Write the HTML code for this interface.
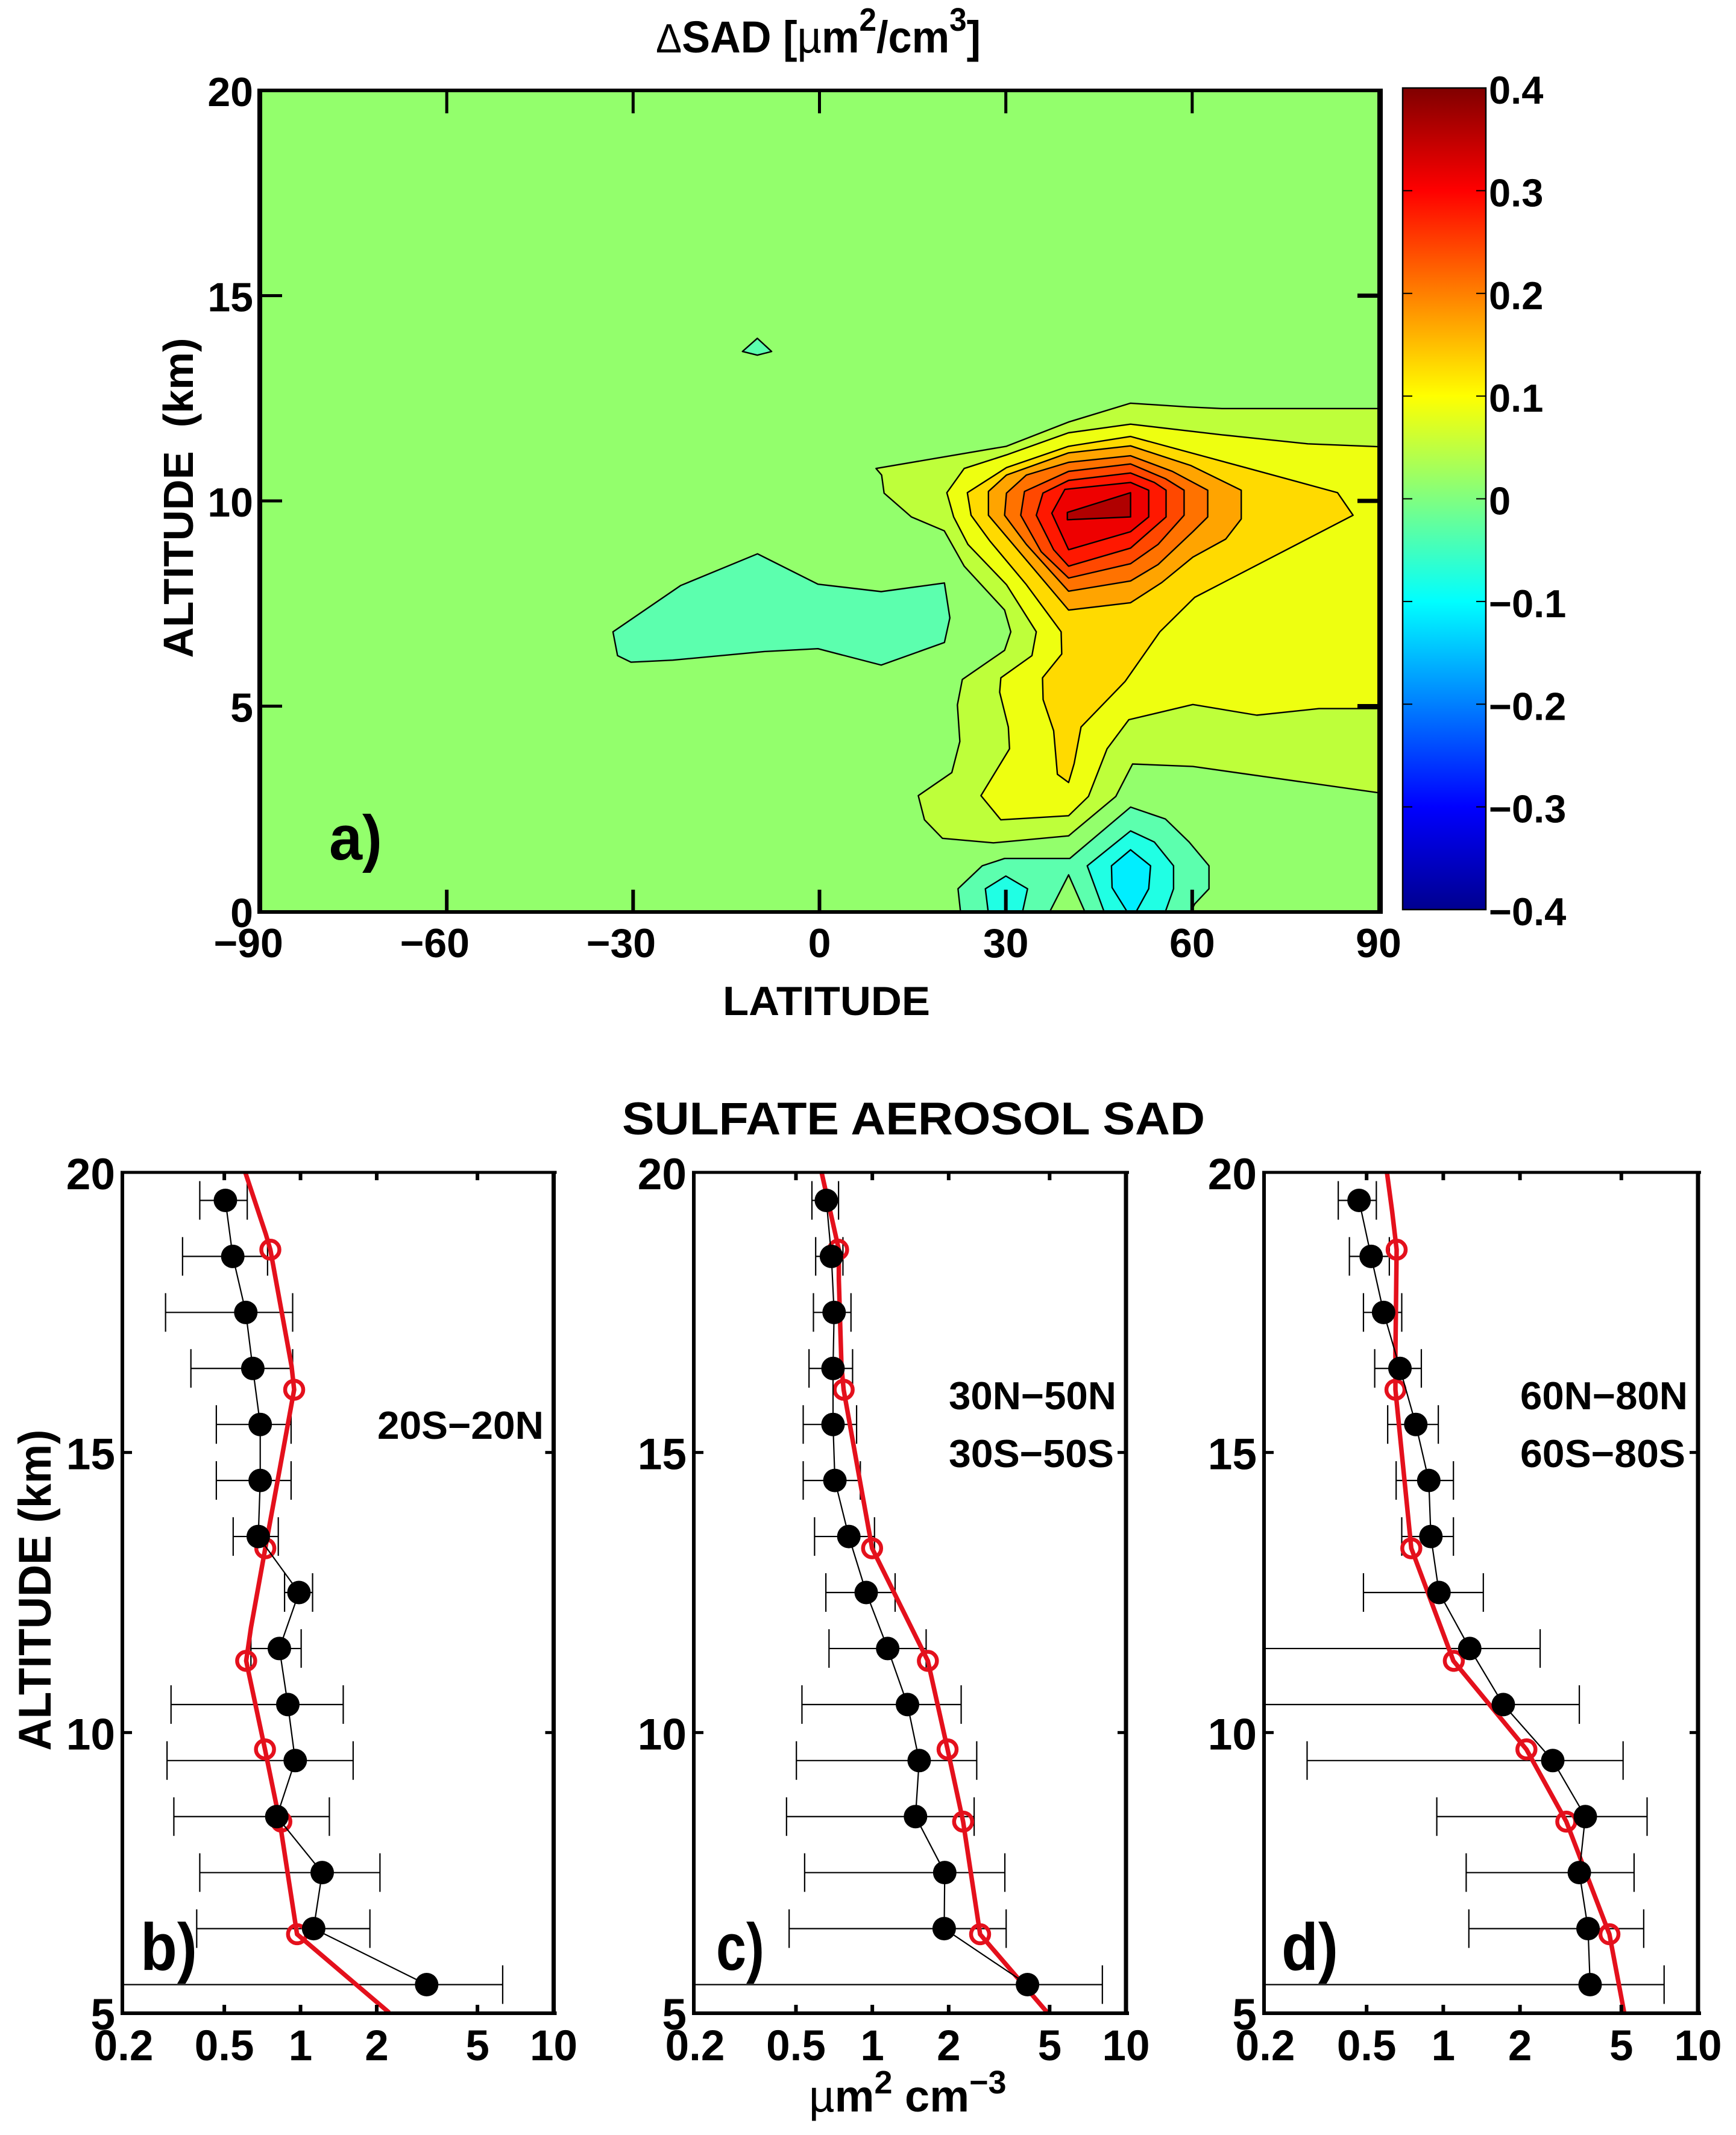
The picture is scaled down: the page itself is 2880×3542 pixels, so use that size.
<!DOCTYPE html>
<html lang="en">
<head>
<meta charset="utf-8">
<title>Delta SAD and sulfate aerosol SAD profiles</title>
<style>
  html, body { margin: 0; padding: 0; background: #fff; }
  body { width: 2880px; height: 3542px; overflow: hidden; }
  svg { display: block; }
  text { font-family: "Liberation Sans", sans-serif; font-weight: 700; fill: #000; }
</style>
</head>
<body>
<svg id="figure" xmlns="http://www.w3.org/2000/svg" width="2880" height="3542" viewBox="0 0 2880 3542">
  <defs>
    <clipPath id="clip-a"><rect x="432" y="150" width="1855" height="1362"/></clipPath>
    <clipPath id="clip-b"><rect x="205" y="1945" width="713.5" height="1394"/></clipPath>
    <clipPath id="clip-c"><rect x="1153" y="1945" width="715" height="1394"/></clipPath>
    <clipPath id="clip-d"><rect x="2099" y="1945" width="718" height="1394"/></clipPath>
    <linearGradient id="jet" x1="0" y1="1" x2="0" y2="0">
      <stop offset="0" stop-color="#00008f"/>
      <stop offset="0.125" stop-color="#0000ff"/>
      <stop offset="0.375" stop-color="#00ffff"/>
      <stop offset="0.5" stop-color="#80ff80"/>
      <stop offset="0.625" stop-color="#ffff00"/>
      <stop offset="0.875" stop-color="#ff0000"/>
      <stop offset="1" stop-color="#800000"/>
    </linearGradient>
  </defs>

  <text transform="translate(1088 87) scale(0.95 1)" x="0" y="0" font-size="74"><tspan font-weight="400" font-size="68">Δ</tspan>SAD [<tspan font-weight="400">µ</tspan>m<tspan font-size="54" dy="-36">2</tspan><tspan dy="36">/cm</tspan><tspan font-size="54" dy="-36">3</tspan><tspan dy="36">]</tspan></text>
  <text transform="translate(320 826) rotate(-90)" text-anchor="middle" font-size="70" textLength="531" lengthAdjust="spacingAndGlyphs" xml:space="preserve">ALTITUDE  (km)</text>
  <text x="1199" y="1684" font-size="68" textLength="344" lengthAdjust="spacingAndGlyphs">LATITUDE</text>
  <text x="1032" y="1882" font-size="76" textLength="967" lengthAdjust="spacingAndGlyphs">SULFATE AEROSOL SAD</text>
  <text transform="translate(84 2638) rotate(-90)" text-anchor="middle" font-size="76" textLength="533" lengthAdjust="spacingAndGlyphs">ALTITUDE (km)</text>
  <text x="1342" y="3503" font-size="74"><tspan font-weight="400">µ</tspan>m<tspan font-size="54" dy="-30">2</tspan><tspan dy="30"> cm</tspan><tspan font-size="54" dy="-30">−3</tspan></text>

  <g id="panel-a"></g>
  <g id="colorbar"></g>
  <g id="panel-b"></g>
  <g id="panel-c"></g>
  <g id="panel-d"></g>

  <text x="546" y="1426" font-size="105" textLength="88" lengthAdjust="spacingAndGlyphs">a)</text>
  <text x="233" y="3268" font-size="110" textLength="94" lengthAdjust="spacingAndGlyphs">b)</text>
  <text x="1188" y="3268" font-size="110" textLength="80" lengthAdjust="spacingAndGlyphs">c)</text>
  <text x="2126" y="3268" font-size="110" textLength="94" lengthAdjust="spacingAndGlyphs">d)</text>

  <text x="626" y="2387" font-size="65" textLength="276" lengthAdjust="spacingAndGlyphs">20S−20N</text>
  <text x="1574" y="2338" font-size="65" textLength="278" lengthAdjust="spacingAndGlyphs">30N−50N</text>
  <text x="1574" y="2434" font-size="65" textLength="274" lengthAdjust="spacingAndGlyphs">30S−50S</text>
  <text x="2522" y="2338" font-size="65" textLength="278" lengthAdjust="spacingAndGlyphs">60N−80N</text>
  <text x="2522" y="2434" font-size="65" textLength="274" lengthAdjust="spacingAndGlyphs">60S−80S</text>
</svg>

<script>
// ---------- Contour panel data: [latitude, altitude km] ----------
const latTicks = [-90, -60, -30, 0, 30, 60, 90];
const altTicksA = [0, 5, 10, 15, 20];
const colorbarTicks = [0.4, 0.3, 0.2, 0.1, 0, -0.1, -0.2, -0.3, -0.4];

const contourPos1 = [[90,12.25],[64.8,12.25],[59.2,12.29],[50.08,12.38],[40.09,11.92],[30.09,11.33],[9.1,10.79],[10,10.63],[10.4,10.19],[14.8,9.61],[20.1,9.27],[23.3,8.41],[29.8,7.34],[30.8,6.81],[29.8,6.36],[23,5.65],[22.2,5.03],[22.6,4.14],[21.3,3.38],[15.9,2.82],[16.9,2.23],[19.8,1.78],[28,1.67],[40.1,1.84],[47.7,2.8],[50.4,3.59],[60.1,3.53],[90,2.89]];
const contourPos2 = [[90,11.32],[78.6,11.39],[64.8,11.61],[50.08,11.87],[40.09,11.66],[30.09,11.12],[23.3,10.79],[20.5,10.2],[21.6,9.61],[23.9,8.94],[30.1,7.96],[34.9,6.81],[34.2,6.23],[29.2,5.69],[29,5.34],[30.4,4.49],[30.6,3.96],[26,2.82],[29.2,2.23],[40.1,2.33],[43.3,2.8],[46.3,3.96],[49.8,4.67],[60.1,5.04],[70.4,4.78],[80.4,4.94],[90,4.94]];
const contourPos3 = [[85.9,9.65],[83.4,10.2],[68.6,10.81],[50.08,11.57],[40.1,11.33],[30.1,10.81],[23.8,10.2],[24.4,9.65],[27.4,9.03],[33.3,7.96],[38.9,6.81],[39,6.27],[35.9,5.69],[36,5.16],[37.7,4.4],[38.3,3.34],[40.1,3.14],[41,3.6],[42.1,4.49],[49.2,5.6],[54.8,6.81],[60.4,7.65]];
const contourPos4 = [[67.9,10.26],[59.8,10.86],[50.08,11.34],[40.1,11.17],[30.1,10.63],[27.2,10.23],[27.2,9.65],[40.1,7.34],[50.08,7.52],[55.1,8.01],[60.1,8.63],[65.4,9.07],[67.9,9.56]];
const contourPos5 = [[62.5,10.26],[56.8,10.72],[50.08,11.1],[40.1,10.94],[33.3,10.63],[30.1,10.19],[29.8,9.65],[33.3,8.94],[40.1,7.8],[50.08,8.05],[54.5,8.45],[60.1,9.25],[62.5,9.61]];
const contourPos6 = [[58.7,10.26],[55.7,10.54],[50.08,10.9],[40.1,10.72],[33,10.23],[32.4,9.65],[35.7,8.76],[40.1,8.12],[50.08,8.47],[54.5,8.94],[58.7,9.65]];
const contourPos7 = [[55.8,10.26],[53.9,10.45],[50.08,10.68],[40.1,10.5],[35.97,10.19],[34.9,9.65],[37.7,8.81],[40.1,8.41],[50.08,8.85],[55.8,9.61]];
const contourPos8 = [[53,10.26],[50.08,10.45],[39.5,10.28],[37.4,9.7],[40.1,8.81],[50.08,9.25],[53,9.61]];
const contourPos9 = [[50.08,10.2],[39.9,9.72],[39.9,9.54],[50.08,9.61]];
const contourNegBlob = [[-33.24,6.81],[-32.51,6.23],[-30.34,6.07],[-23.63,6.12],[-8.9,6.33],[-0.24,6.4],[9.94,6],[20.12,6.55],[20.99,7.15],[20.12,8],[9.94,7.79],[-0.24,7.97],[-9.98,8.71],[-22.33,7.94]];
const contourNegDiamond = [[-12.4,13.64],[-10,13.96],[-7.7,13.64],[-10,13.55]];
const contourNeg1 = [[22.7,0],[22.3,0.55],[26.2,1.11],[29.8,1.29],[40.3,1.29],[50.08,2.54],[55.7,2.25],[59.5,1.69],[62.7,1.11],[62.7,0.55],[60.4,0.18],[59.8,0],[42.7,0],[40.1,0.89],[37.1,0]];
const contourNeg2a = [[27.15,0],[26.7,0.55],[30,0.86],[33.5,0.55],[32.7,0]];
const contourNeg2b = [[45.8,0],[43.1,1.11],[50.08,1.96],[53.9,1.69],[57,1.11],[57,0.55],[55.7,0]];
const contourNeg3 = [[49.5,0],[47.1,0.58],[47,1.11],[50.08,1.5],[53.3,1.11],[53,0.55],[51,0]];

// ---------- Profile panel data ----------
const profileXTicks = [0.2, 0.5, 1, 2, 5, 10];
const profileYTicks = [5, 10, 15, 20];
const obsAltitudes = [19.5, 18.5, 17.5, 16.5, 15.5, 14.5, 13.5, 12.5, 11.5, 10.5, 9.5, 8.5, 7.5, 6.5, 5.5];
const modelAltitudes = [18.62, 16.12, 13.29, 11.28, 9.7, 8.41, 6.4];

const bMean = [0.505, 0.54, 0.608, 0.648, 0.693, 0.693, 0.681, 0.986, 0.825, 0.891, 0.953, 0.806, 1.218, 1.127, 3.15];
const bLow  = [0.40, 0.342, 0.293, 0.369, 0.465, 0.465, 0.542, 0.865, 0.637, 0.308, 0.297, 0.316, 0.40, 0.389, 0.15];
const bHigh = [0.616, 0.741, 0.931, 0.931, 0.918, 0.918, 0.817, 1.116, 1.006, 1.475, 1.614, 1.30, 2.06, 1.88, 6.29];
const bModel = [0.76, 0.944, 0.726, 0.61, 0.724, 0.84, 0.969];
const bLineAlt = [20, 18.9, 18.62, 16.54, 16.12, 13.29, 11.87, 11.28, 9.7, 8.41, 6.4, 5];
const bLineVal = [0.605, 0.729, 0.76, 0.922, 0.944, 0.726, 0.637, 0.61, 0.724, 0.828, 0.969, 2.24];

const cMean = [0.659, 0.69, 0.707, 0.70, 0.70, 0.712, 0.808, 0.946, 1.15, 1.376, 1.53, 1.48, 1.93, 1.92, 4.09];
const cLow  = [0.578, 0.598, 0.586, 0.563, 0.534, 0.534, 0.592, 0.656, 0.675, 0.528, 0.502, 0.459, 0.541, 0.47, 0.15];
const cHigh = [0.736, 0.766, 0.824, 0.836, 0.867, 0.897, 1.02, 1.23, 1.63, 2.24, 2.58, 2.52, 3.33, 3.37, 8.07];
const cModel = [0.733, 0.771, 0.998, 1.656, 1.98, 2.28, 2.66];
const cLineAlt = [20, 18.62, 18.09, 16.54, 16.12, 14.5, 13.29, 11.28, 9.7, 8.41, 6.4, 5];
const cLineVal = [0.631, 0.738, 0.738, 0.756, 0.771, 0.893, 0.998, 1.656, 1.98, 2.28, 2.66, 4.9];

const dMean = [0.467, 0.521, 0.583, 0.676, 0.78, 0.877, 0.894, 0.962, 1.27, 1.72, 2.69, 3.61, 3.42, 3.70, 3.77];
const dLow  = [0.387, 0.428, 0.486, 0.538, 0.605, 0.653, 0.687, 0.486, 0.15, 0.15, 0.292, 0.943, 1.23, 1.26, 0.15];
const dHigh = [0.546, 0.614, 0.687, 0.82, 0.956, 1.096, 1.096, 1.436, 2.4, 3.42, 5.08, 6.31, 5.61, 6.12, 7.36];
const dModel = [0.656, 0.649, 0.749, 1.10, 2.12, 3.04, 4.49];
const dLineAlt = [20, 19.3, 18.62, 16.78, 16.12, 13.29, 11.28, 9.7, 8.41, 6.4, 5];
const dLineVal = [0.601, 0.63, 0.656, 0.649, 0.649, 0.749, 1.096, 2.12, 3.04, 4.49, 5.13];

// ---------- Helpers ----------
const SVGNS = 'http://www.w3.org/2000/svg';
function add(parent, tag, attrs) {
  const el = document.createElementNS(SVGNS, tag);
  for (const k in attrs) el.setAttribute(k, attrs[k]);
  parent.appendChild(el);
  return el;
}
function minus(v) { return String(v).replace('-', '−'); }

// ---------- Contour panel axes ----------
const latX = lat => 432 + (lat + 90) * 1855 / 180;
const altY = alt => 1512 - alt * 1362 / 20;
const pointsOf = arr => arr.map(p => latX(p[0]).toFixed(1) + ',' + altY(p[1]).toFixed(1)).join(' ');

const panelA = document.getElementById('panel-a');
const plotBg = add(panelA, 'rect', { x: 432, y: 150, width: 1855, height: 1362, fill: '#93ff6c' });



const contourGroup = add(panelA, 'g', { 'clip-path': 'url(#clip-a)', stroke: '#000', 'stroke-width': 2.4, 'stroke-linejoin': 'round' });



const contourLayers = [
  [contourPos1, '#beff3a'], [contourPos2, '#eeff10'], [contourPos3, '#ffda00'],
  [contourPos4, '#ffa400'], [contourPos5, '#ff7200'], [contourPos6, '#ff4800'],
  [contourPos7, '#ff1800'], [contourPos8, '#ee0000'], [contourPos9, '#b00000'],
  [contourNegBlob, '#5cffae'], [contourNegDiamond, '#5cffae'], [contourNeg1, '#5cffae'],
  [contourNeg2a, '#20ffe4'], [contourNeg2b, '#20ffe4'], [contourNeg3, '#00eeff']
];
contourLayers.forEach(layer => {
  const band = add(contourGroup, 'polygon', { points: pointsOf(layer[0]), fill: layer[1] });
  
  
});

latTicks.slice(1, -1).forEach(lat => {
  const topTick = add(panelA, 'line', { x1: latX(lat), x2: latX(lat), y1: 150, y2: 188, stroke: '#000', 'stroke-width': 5 });
  
  
  const bottomTick = add(panelA, 'line', { x1: latX(lat), x2: latX(lat), y1: 1512, y2: 1476, stroke: '#000', 'stroke-width': 6 });
  
  
});
altTicksA.slice(1, -1).forEach(alt => {
  const leftTick = add(panelA, 'line', { x1: 432, x2: 468, y1: altY(alt), y2: altY(alt), stroke: '#000', 'stroke-width': 5 });
  
  
  const rightTick = add(panelA, 'line', { x1: 2287, x2: 2252, y1: altY(alt), y2: altY(alt), stroke: '#000', 'stroke-width': 7 });
  
  
});

const frameA = add(panelA, 'g', { stroke: '#000' });


add(frameA, 'line', { x1: 427, x2: 2294, y1: 150, y2: 150, 'stroke-width': 6 });
add(frameA, 'line', { x1: 427, x2: 2294, y1: 1513, y2: 1513, 'stroke-width': 6 });
add(frameA, 'line', { x1: 431, x2: 431, y1: 147, y2: 1516, 'stroke-width': 8 });
add(frameA, 'line', { x1: 2289.5, x2: 2289.5, y1: 147, y2: 1516, 'stroke-width': 9 });

latTicks.forEach(lat => {
  const digits = String(Math.abs(lat)).length;
  const label = add(panelA, 'text', { x: latX(lat) + digits * 0.556 * 68 / 2, y: 1588, 'font-size': 68, 'text-anchor': 'end' });
  label.textContent = minus(lat);
  
  
});
altTicksA.forEach(alt => {
  const label = add(panelA, 'text', { x: 420, y: altY(alt) + 26, 'font-size': 68, 'text-anchor': 'end' });
  label.textContent = alt;
  
  
});

// ---------- Colorbar ----------
const cbar = document.getElementById('colorbar');
const cbY = v => 146 + (0.4 - v) * 1363 / 0.8;
const cbRect = add(cbar, 'rect', { x: 2327, y: 146, width: 138, height: 1363, fill: 'url(#jet)', stroke: '#000', 'stroke-width': 2.5 });


colorbarTicks.forEach(v => {
  if (Math.abs(v) < 0.4) {
    const t1 = add(cbar, 'line', { x1: 2327, x2: 2343, y1: cbY(v), y2: cbY(v), stroke: '#000', 'stroke-width': 2 });
    
    
    const t2 = add(cbar, 'line', { x1: 2449, x2: 2465, y1: cbY(v), y2: cbY(v), stroke: '#000', 'stroke-width': 2 });
    
    
  }
  const label = add(cbar, 'text', { x: 2470, y: cbY(v) + 26, 'font-size': 65 });
  label.textContent = minus(v);
  
  
});

// ---------- Profile panels ----------
const profilePanels = [
  { id: 'b', left: 205, right: 918.5, mean: bMean, low: bLow, high: bHigh, model: bModel, lineAlt: bLineAlt, lineVal: bLineVal },
  { id: 'c', left: 1153, right: 1868, mean: cMean, low: cLow, high: cHigh, model: cModel, lineAlt: cLineAlt, lineVal: cLineVal },
  { id: 'd', left: 2099, right: 2817, mean: dMean, low: dLow, high: dHigh, model: dModel, lineAlt: dLineAlt, lineVal: dLineVal }
];
const profTop = 1945, profBottom = 3339;
const profY = alt => profBottom - (alt - 5) * (profBottom - profTop) / 15;

profilePanels.forEach(p => {
  const g = document.getElementById('panel-' + p.id);
  const valX = v => p.left + (Math.log10(v) - Math.log10(0.2)) * (p.right - p.left) / Math.log10(50);

  const marks = add(g, 'g', { 'clip-path': 'url(#clip-' + p.id + ')' });
  
  

  obsAltitudes.forEach((alt, i) => {
    const y = profY(alt);
    const bar = add(marks, 'path', {
      d: 'M' + valX(p.low[i]) + ' ' + y + 'H' + valX(p.high[i]) +
         'M' + valX(p.low[i]) + ' ' + (y - 32) + 'V' + (y + 32) +
         'M' + valX(p.high[i]) + ' ' + (y - 32) + 'V' + (y + 32),
      stroke: '#000', 'stroke-width': 2.2, fill: 'none'
    });
    
    
  });

  const modelLine = add(marks, 'polyline', {
    points: p.lineAlt.map((a, i) => valX(p.lineVal[i]).toFixed(1) + ',' + profY(a).toFixed(1)).join(' '),
    fill: 'none', stroke: '#e4101c', 'stroke-width': 7.5, 'stroke-linejoin': 'round'
  });
  
  

  modelAltitudes.forEach((alt, i) => {
    const ring = add(marks, 'circle', { cx: valX(p.model[i]), cy: profY(alt), r: 15, fill: 'none', stroke: '#e4101c', 'stroke-width': 6.5 });
    
    
  });

  const obsLine = add(marks, 'polyline', {
    points: obsAltitudes.map((a, i) => valX(p.mean[i]).toFixed(1) + ',' + profY(a).toFixed(1)).join(' '),
    fill: 'none', stroke: '#000', 'stroke-width': 2.2
  });
  
  

  obsAltitudes.forEach((alt, i) => {
    const dot = add(marks, 'circle', { cx: valX(p.mean[i]), cy: profY(alt), r: 19.5, fill: '#000' });
    
    
  });

  profileXTicks.slice(1, -1).forEach(v => {
    const topTick = add(g, 'line', { x1: valX(v), x2: valX(v), y1: profTop, y2: profTop + 13, stroke: '#000', 'stroke-width': 6 });
    
    
    const bottomTick = add(g, 'line', { x1: valX(v), x2: valX(v), y1: profBottom, y2: profBottom - 13, stroke: '#000', 'stroke-width': 6 });
    
    
  });
  profileYTicks.slice(1, -1).forEach(a => {
    const leftTick = add(g, 'line', { x1: p.left, x2: p.left + 14, y1: profY(a), y2: profY(a), stroke: '#000', 'stroke-width': 5 });
    
    
    const rightTick = add(g, 'line', { x1: p.right, x2: p.right - 14, y1: profY(a), y2: profY(a), stroke: '#000', 'stroke-width': 5 });
    
    
  });

  const frame = add(g, 'g', { stroke: '#000' });
  
  
  add(frame, 'line', { x1: p.left - 5, x2: p.right + 5, y1: profTop, y2: profTop, 'stroke-width': 5 });
  add(frame, 'line', { x1: p.left - 5, x2: p.right + 5, y1: profBottom + 1, y2: profBottom + 1, 'stroke-width': 6 });
  add(frame, 'line', { x1: p.left - 2, x2: p.left - 2, y1: profTop - 2, y2: profBottom + 4, 'stroke-width': 6 });
  add(frame, 'line', { x1: p.right, x2: p.right, y1: profTop - 2, y2: profBottom + 4, 'stroke-width': 7 });

  profileXTicks.forEach(v => {
    const label = add(g, 'text', { x: valX(v), y: 3418, 'font-size': 71, 'text-anchor': 'middle' });
    label.textContent = v;
    
    
  });
  profileYTicks.forEach(a => {
    const label = add(g, 'text', { x: p.left - 14, y: profY(a) + 28, 'font-size': 73, 'text-anchor': 'end' });
    label.textContent = a;
    
    
  });
});
</script>
</body>
</html>
